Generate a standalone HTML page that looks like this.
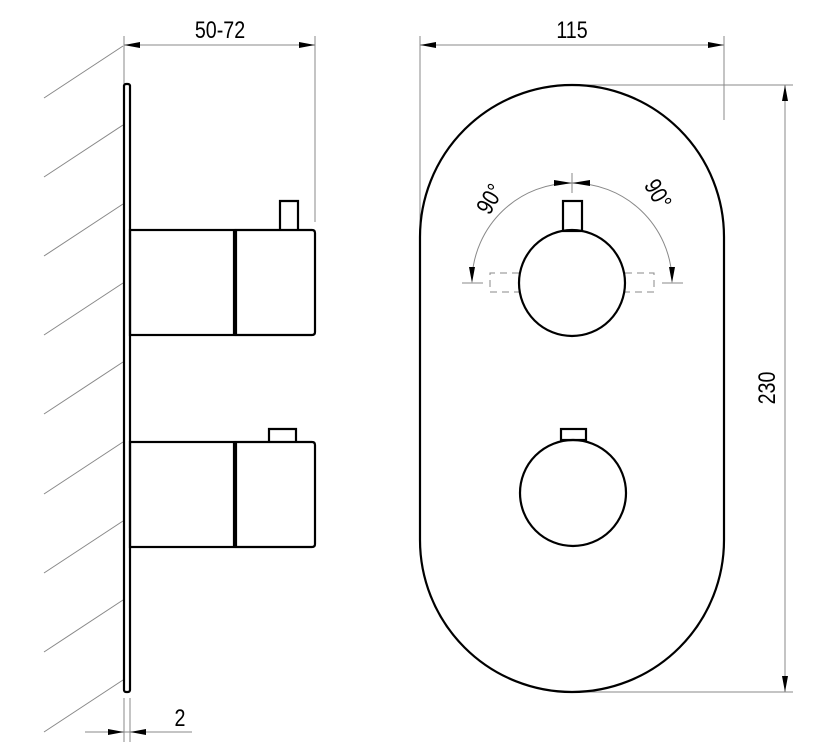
<!DOCTYPE html>
<html><head><meta charset="utf-8"><style>html,body{margin:0;padding:0;background:#fff}svg{display:block}</style></head>
<body>
<svg width="836" height="754" viewBox="0 0 836 754" xmlns="http://www.w3.org/2000/svg" font-family="Liberation Sans, sans-serif">
<g stroke="#888" stroke-width="1" fill="none">
<line x1="44" y1="98" x2="123" y2="46"/>
<line x1="44" y1="177" x2="123" y2="125"/>
<line x1="44" y1="256" x2="123" y2="204"/>
<line x1="44" y1="335" x2="123" y2="283"/>
<line x1="44" y1="414" x2="123" y2="362"/>
<line x1="44" y1="494" x2="123" y2="442"/>
<line x1="44" y1="573" x2="123" y2="521"/>
<line x1="44" y1="652" x2="123" y2="600"/>
<line x1="44" y1="732" x2="123" y2="680"/>
<line x1="124" y1="36" x2="124" y2="84"/>
<line x1="315" y1="36" x2="315" y2="222"/>
<line x1="124" y1="45" x2="315" y2="45"/>
<line x1="124" y1="698" x2="124" y2="742"/>
<line x1="130" y1="698" x2="130" y2="742"/>
<line x1="85" y1="732" x2="192" y2="732"/>
<line x1="420" y1="36" x2="420" y2="240"/>
<line x1="724" y1="36" x2="724" y2="120"/>
<line x1="420" y1="45" x2="724" y2="45"/>
<line x1="572" y1="85" x2="793" y2="85"/>
<line x1="572" y1="692" x2="793" y2="692"/>
<line x1="785" y1="85" x2="785" y2="692"/>
<path d="M472,278 A100,100 0 0 1 572,183 A100,100 0 0 1 672,278"/>
<line x1="572" y1="173" x2="572" y2="193"/>
<line x1="462" y1="283" x2="483" y2="283"/>
<line x1="662" y1="283" x2="683" y2="283"/>
<path d="M519,273 H490 V292 H519" stroke-dasharray="7,5"/>
<path d="M625,273 H654 V292 H625" stroke-dasharray="7,5"/>
</g>
<g fill="#000">
<path d="M124,45 l16,-3 v6 z"/><path d="M315,45 l-16,-3 v6 z"/>
<path d="M124,732 l-16,-3 v6 z"/><path d="M130,732 l16,-3 v6 z"/>
<path d="M420,45 l16,-3 v6 z"/><path d="M724,45 l-16,-3 v6 z"/>
<path d="M785,85 l-3,16 h6 z"/><path d="M785,692 l-3,-16 h6 z"/>
<path d="M572,183 l-18,-3 v6 z"/><path d="M572,183 l18,-3 v6 z"/>
<path d="M472,283 l-3,-16 h6 z"/><path d="M672,283 l-3,-16 h6 z"/>
</g>
<g stroke="#000" stroke-width="2.2" fill="none">
<rect x="124" y="84" width="6" height="608" rx="2"/>
<rect x="130" y="230" width="104" height="105"/>
<path d="M236,230 H312 Q315,230 315,233 V332 Q315,335 312,335 H236 Z"/>
<path d="M280,231 V201 H298 V231"/>
<rect x="130" y="442" width="104" height="105"/>
<path d="M236,442 H312 Q315,442 315,445 V544 Q315,547 312,547 H236 Z"/>
<path d="M269,441 V429 H296 V441"/>
<rect x="420" y="85" width="304" height="607" rx="152" ry="152"/>
<circle cx="572" cy="283" r="53"/>
<rect x="563" y="201" width="19" height="30"/>
<circle cx="573" cy="493" r="53"/>
<rect x="561" y="429" width="25" height="11"/>
</g>
<g font-size="24" fill="#000" text-anchor="middle">
<text transform="translate(220,38) scale(0.82,1)">50-72</text>
<text transform="translate(572,38) scale(0.82,1)">115</text>
<text transform="translate(180,726) scale(0.82,1)">2</text>
<text transform="translate(775,388) rotate(-90) scale(0.82,1)">230</text>
<text transform="translate(497,203) rotate(-60) scale(0.82,1)">90°</text>
<text transform="translate(651,198) rotate(60) scale(0.82,1)">90°</text>
</g>
</svg>
</body></html>
